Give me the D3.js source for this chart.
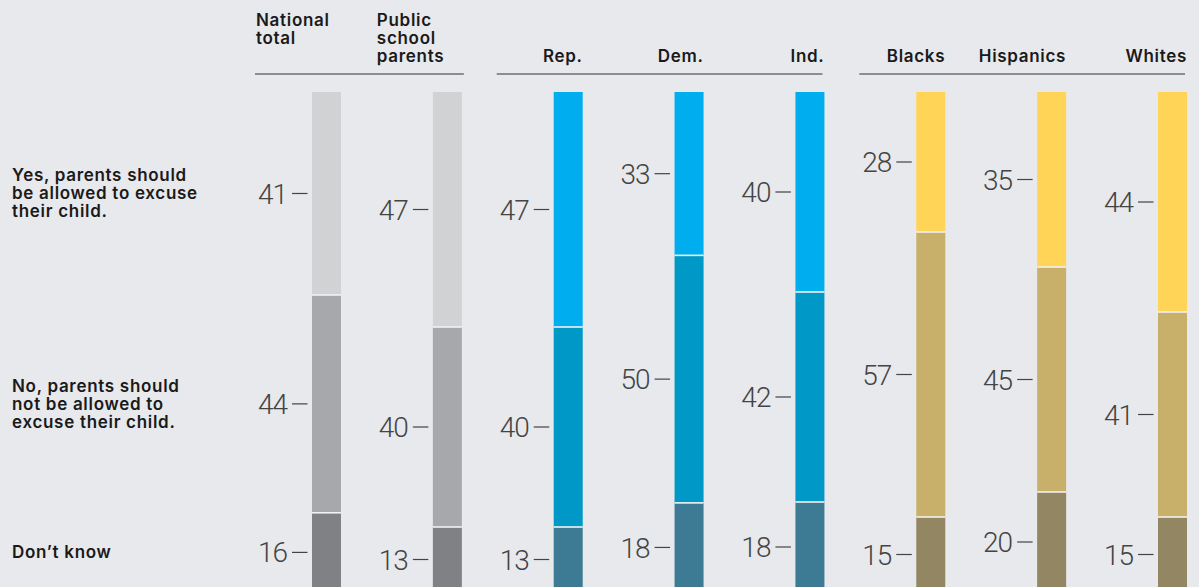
<!DOCTYPE html>
<html>
<head>
<meta charset="utf-8">
<script src="https://cdn.jsdelivr.net/npm/d3@7"></script>
<style>
  html, body { margin: 0; padding: 0; background: #e8e9ed; overflow: hidden; }
  svg { display: block; }
</style>
</head>
<body>
<svg id="chart" width="1199" height="587"></svg>
<script>
// ---- data ----
const categories = ["National total", "Public school parents", "Rep.", "Dem.", "Ind.", "Blacks", "Hispanics", "Whites"];
const headerLines = [["National", "total"], ["Public", "school", "parents"], ["Rep."], ["Dem."], ["Ind."], ["Blacks"], ["Hispanics"], ["Whites"]];
const groups = [["National total", "Public school parents"], ["Rep.", "Dem.", "Ind."], ["Blacks", "Hispanics", "Whites"]];
const answers = ["yes", "no", "dk"];
const answerLabels = [
  ["Yes, parents should", "be allowed to excuse", "their child."],
  ["No, parents should", "not be allowed to", "excuse their child."],
  ["Don\u2019t know"]
];
const yesValues = [41, 47, 47, 33, 40, 28, 35, 44];
const noValues  = [44, 40, 40, 50, 42, 57, 45, 41];
const dkValues  = [16, 13, 13, 18, 18, 15, 20, 15];
const palettes = {
  gray: ["#d1d2d4", "#a7a8ab", "#808184"],
  blue: ["#00aeef", "#0098c6", "#3d7a93"],
  gold: ["#ffd457", "#c9b06a", "#938662"]
};
const categoryPalette = ["gray", "gray", "blue", "blue", "blue", "gold", "gold", "gold"];

// ---- build ----
const rows = categories.map((c, i) => ({ cat: c, yes: yesValues[i], no: noValues[i], dk: dkValues[i] }));
const series = d3.stack().keys(answers).offset(d3.stackOffsetExpand)(rows);

const svg = d3.select("#chart");
const barW = 29;
const x = d3.scalePoint().domain(categories).range([312, 1158]);
const y = d3.scaleLinear().domain([0, 1]).range([92, 592]);

// bars
series.forEach((s, si) => {
  svg.append("g").selectAll("rect").data(s).join("rect")
    .attr("x", d => x(d.data.cat))
    .attr("y", d => y(d[0]))
    .attr("width", barW)
    .attr("height", d => y(d[1]) - y(d[0]))
    .attr("fill", (d, i) => palettes[categoryPalette[i]][si]);
});
// separators
series.slice(0, -1).forEach(s => {
  svg.append("g").selectAll("line").data(s).join("line")
    .attr("x1", d => x(d.data.cat)).attr("x2", d => x(d.data.cat) + barW)
    .attr("y1", d => y(d[1])).attr("y2", d => y(d[1]))
    .attr("stroke", "#f2f2f2").attr("stroke-width", 1.6);
});

// value labels
series.forEach((s, si) => {
  const g = svg.append("g");
  s.forEach(d => {
    const cy = (y(d[0]) + y(d[1])) / 2;
    const bx = x(d.data.cat);
    g.append("text")
      .attr("x", bx - 25).attr("y", cy)
      .attr("dy", "0.36em")
      .attr("text-anchor", "end")
      .attr("font-family", "Roboto, 'Liberation Sans', sans-serif")
      .attr("font-weight", 300)
      .attr("font-size", 28)
      .attr("letter-spacing", -1)
      .attr("fill", "#444")
      .text(d.data[answers[si]]);
    g.append("line")
      .attr("x1", bx - 20).attr("x2", bx - 4.5)
      .attr("y1", cy).attr("y2", cy)
      .attr("stroke", "#444").attr("stroke-width", 1.2);
  });
});

// headers
const headerFont = "Inter, 'Noto Sans', sans-serif";
categories.forEach((c, i) => {
  const lines = headerLines[i];
  const left = i < 2;
  const t = svg.append("text")
    .attr("font-family", headerFont)
    .attr("font-weight", 600)
    .attr("font-size", 17)
    .attr("letter-spacing", 0.7)
    .attr("fill", "#1a1a1a")
    .attr("text-anchor", left ? "start" : "end");
  lines.forEach((ln, li) => {
    t.append("tspan")
      .attr("x", left ? x(c) - 56 : x(c) + barW)
      .attr("y", lines.length > 1 ? 26 + li * 18 : 62)
      .text(ln);
  });
});
// group rules
groups.forEach((g, gi) => {
  const x1 = x(g[0]) - 57;
  const x2 = x(g[g.length - 1]) + barW + (gi === 0 ? 2 : -2);
  svg.append("line")
    .attr("x1", x1).attr("x2", x2)
    .attr("y1", 74).attr("y2", 74)
    .attr("stroke", "#333").attr("stroke-width", 1.2);
});

// row labels centered on first bar's segments
series.forEach((s, si) => {
  const d = s[0];
  const cy = (y(d[0]) + y(d[1])) / 2;
  const lines = answerLabels[si];
  const t = svg.append("text")
    .attr("font-family", headerFont)
    .attr("font-weight", 600)
    .attr("font-size", 17)
    .attr("letter-spacing", 0.7)
    .attr("fill", "#1a1a1a");
  lines.forEach((ln, li) => {
    t.append("tspan")
      .attr("x", 12)
      .attr("y", cy + 6 + (li - (lines.length - 1) / 2) * 18)
      .text(ln);
  });
});
</script>
</body>
</html>
